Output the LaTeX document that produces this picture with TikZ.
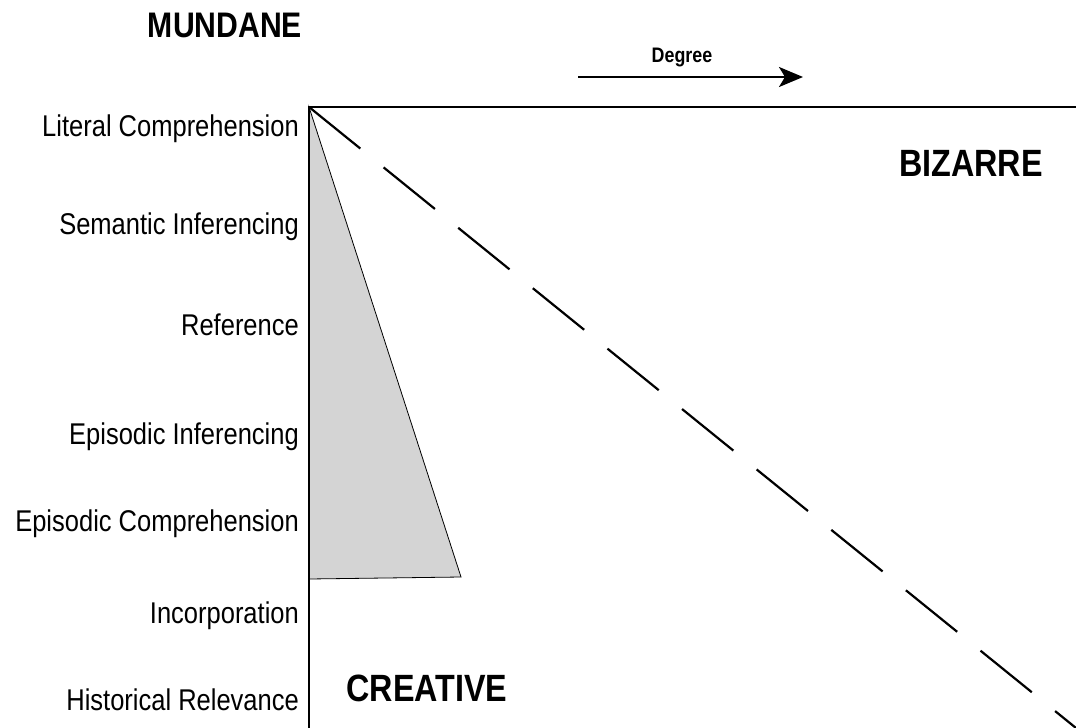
\documentclass[tikz,border=0pt]{standalone}
\usepackage{fontspec}
\setmainfont{Liberation Sans}[FakeStretch=0.85]
\usetikzlibrary{arrows.meta}
\tikzset{
  lbl/.style={anchor=base east, inner sep=0pt, font=\fontsize{30}{30}\selectfont},
  big/.style={anchor=center, inner sep=0pt, font=\fontsize{38}{38}\selectfont\bfseries},
  axis/.style={line width=1.1pt, black},
}
\begin{document}
\begin{tikzpicture}[x=1pt,y=-1pt]
\useasboundingbox (0,0) rectangle (1076,728);
\coordinate (corner) at (309,107);
\coordinate (topend) at (1076,107);
\coordinate (botend) at (309,728);
\coordinate (tri1) at (461,577);
\coordinate (tri2) at (309,579);
\coordinate (dashend) at (1076,728);
\coordinate (arrA) at (578,77);
\coordinate (arrB) at (803,77);
% triangle
\filldraw[fill=black!17, draw=black, line width=0.8pt] (corner) -- (tri1) -- (tri2) -- cycle;
% axes
\draw[axis] (topend) -- (corner) -- (botend);
% dashed diagonal
\draw[line width=2.2pt, dash pattern=on 66pt off 30pt] (corner) -- (dashend);
% degree arrow
\draw[line width=2.3pt, -{Stealth[length=24pt,width=20pt,inset=6pt]}] (arrA) -- (arrB);
\node[font=\fontsize{21}{21}\selectfont\bfseries, inner sep=0pt] (deg) at (682,58) {Degree};
% big labels
\node[big, font=\fontsize{35.5}{35.5}\selectfont\bfseries] (mund) at (225,25) {MUNDANE};
\node[big] (biz) at (971,163) {BIZARRE};
\node[big] (cre) at (427,688) {CREATIVE};
% level labels
\node[lbl] (l1) at (299,136) {Literal Comprehension};
\node[lbl] (l2) at (299,234) {Semantic Inferencing};
\node[lbl] (l3) at (299,335) {Reference};
\node[lbl] (l4) at (299,444) {Episodic Inferencing};
\node[lbl] (l5) at (299,531) {Episodic Comprehension};
\node[lbl] (l6) at (299,623) {Incorporation};
\node[lbl] (l7) at (299,710) {Historical Relevance};
\end{tikzpicture}
\end{document}
